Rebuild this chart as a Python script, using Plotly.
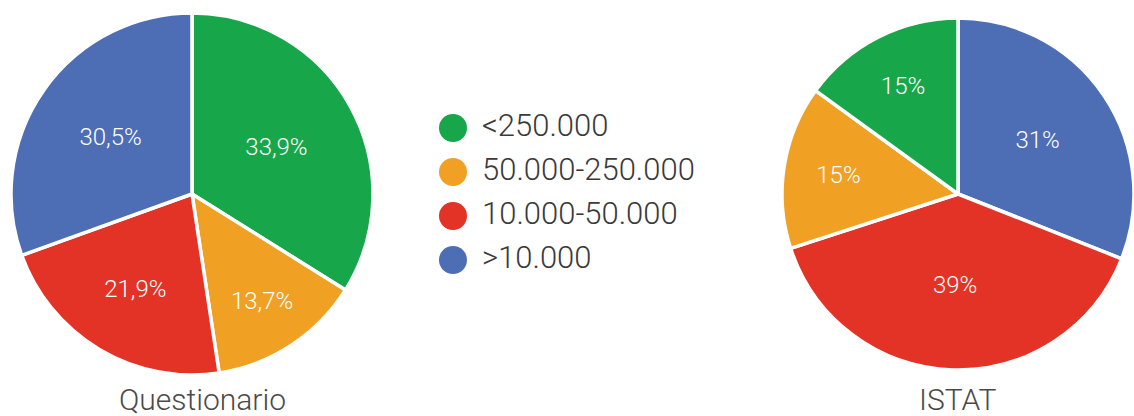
import plotly.graph_objects as go

# Categories (population classes) and their colours
categories = ["<250.000", "50.000-250.000", "10.000-50.000", ">10.000"]
colors = ["#18A64B", "#F0A023", "#E33226", "#4D6DB5"]

# Share of each class, in percent
questionario = [33.9, 13.7, 21.9, 30.5]
istat = [15, 15, 39, 31]

titles = ["Questionario", "ISTAT"]

W, H = 1134, 416
FONT = "Roboto"

fig = go.Figure()

slice_line = dict(color="white", width=3.5)
label_font = dict(family=FONT, size=24, color="white", weight=300)

fig.add_trace(go.Pie(
    labels=categories, values=questionario, sort=False,
    direction="clockwise", rotation=0,
    marker=dict(colors=colors, line=slice_line),
    texttemplate="%{value:.1f}%", textposition="inside",
    insidetextorientation="horizontal", textfont=label_font,
    domain=dict(x=[11 / W, 373 / W], y=[(H - 375) / H, (H - 13) / H]),
    showlegend=False, hoverinfo="skip",
))

# ISTAT pie runs the other way round: walk the classes in reverse, clockwise
fig.add_trace(go.Pie(
    labels=categories[::-1], values=istat[::-1], sort=False,
    direction="clockwise", rotation=0,
    marker=dict(colors=colors[::-1], line=slice_line),
    texttemplate="%{value:.0f}%", textposition="inside",
    insidetextorientation="horizontal", textfont=label_font,
    domain=dict(x=[782 / W, 1.0], y=[(H - 373) / H, (H - 15) / H]),
    showlegend=False, hoverinfo="skip",
))

# Legend drawn as circle markers with labels on a hidden pixel-scaled axis
idx = list(range(len(categories)))
fig.add_trace(go.Scatter(
    x=[0] * len(categories), y=idx, mode="markers",
    marker=dict(size=28, color=colors, line=dict(width=0)),
    showlegend=False, hoverinfo="skip",
))
fig.add_trace(go.Scatter(
    x=[29] * len(categories), y=idx, mode="text",
    text=categories, textposition="middle right",
    textfont=dict(family=FONT, size=31, color="#3a3a3a", weight=300),
    showlegend=False, hoverinfo="skip",
))

step = 44.0
fig.update_xaxes(range=[-453, W - 453], domain=[0, 1], visible=False, fixedrange=True)
fig.update_yaxes(range=[(H - 128) / step, -128 / step], domain=[0, 1],
                 visible=False, fixedrange=True)

# Pie titles
for name, xc in zip(titles, [202, 957]):
    fig.add_annotation(
        text=name, x=xc / W, y=0, xref="paper", yref="paper",
        xanchor="center", yanchor="bottom", yshift=-3, showarrow=False,
        font=dict(family=FONT, size=30, color="#4a4a4a", weight=300),
    )

fig.update_layout(
    width=W, height=H, margin=dict(l=0, r=0, t=0, b=0),
    paper_bgcolor="white", plot_bgcolor="white",
    separators=",.", showlegend=False,
)

fig.write_html("out.html")
